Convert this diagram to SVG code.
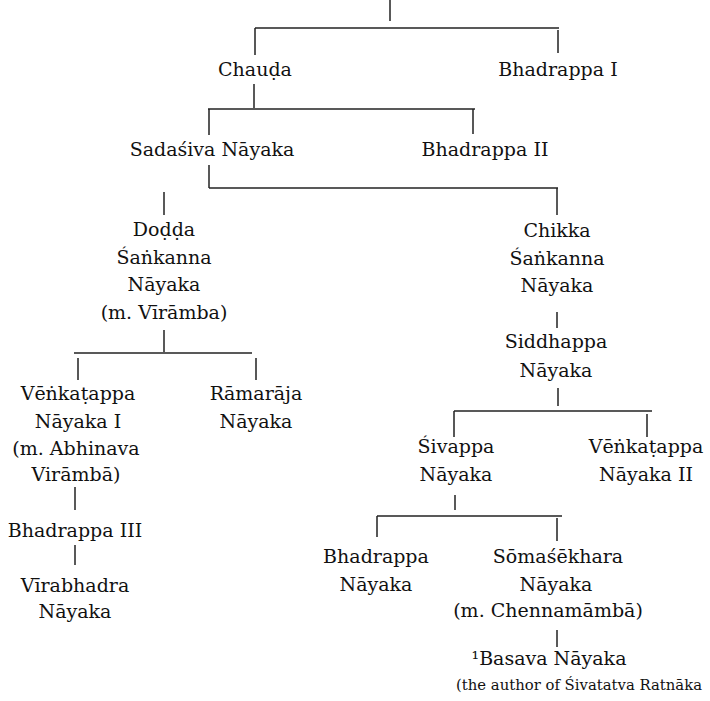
<svg xmlns="http://www.w3.org/2000/svg" width="710" height="701" viewBox="0 0 710 701">
<style>
text{font-family:"DejaVu Serif","Liberation Serif",serif;font-size:19px;fill:#111;text-anchor:middle}
.c path{stroke:#222;stroke-width:1.5;fill:none}
</style>
<rect width="710" height="701" fill="#fff"/>
<g class="c" id="connectors">
<path d="M390,0V21"/>
<path d="M255,28H559"/>
<path d="M255,28V55M558,30V53"/>
<path d="M254,84V108"/>
<path d="M208,109H475"/>
<path d="M209,109V135M473,109V134"/>
<path d="M209,165V188"/>
<path d="M209,188H558"/>
<path d="M557,188V215"/>
<path d="M164,192V215"/>
<path d="M164,330V352"/>
<path d="M74,353H252"/>
<path d="M78,358V380M256,358V380"/>
<path d="M75,487V510"/>
<path d="M75,545V565"/>
<path d="M557,312V328"/>
<path d="M558,388V406"/>
<path d="M454,411H652"/>
<path d="M454,411V437M647,414V437"/>
<path d="M455,495V510"/>
<path d="M377,516H562"/>
<path d="M377,516V537M557,518V541"/>
<path d="M557,630V647"/>
</g>
<g id="chauda"><text x="255" y="76">Chauḍa</text></g>
<g id="bhadrappa1"><text x="558" y="76">Bhadrappa I</text></g>
<g id="sadasiva"><text x="212" y="156">Sadaśiva Nāyaka</text></g>
<g id="bhadrappa2"><text x="485" y="156">Bhadrappa II</text></g>
<g id="dodda"><text x="164" y="236">Doḍḍa</text><text x="164" y="264">Śaṅkanna</text><text x="164" y="291">Nāyaka</text><text x="164" y="319">(m. Vīrāmba)</text></g>
<g id="chikka"><text x="557" y="237">Chikka</text><text x="557" y="265">Śaṅkanna</text><text x="557" y="292">Nāyaka</text></g>
<g id="siddhappa"><text x="556" y="348">Siddhappa</text><text x="556" y="377">Nāyaka</text></g>
<g id="venkatappa1"><text x="78" y="400">Vēṅkaṭappa</text><text x="78" y="428">Nāyaka I</text><text x="76" y="455">(m. Abhinava</text><text x="76" y="481">Virāmbā)</text></g>
<g id="ramaraja"><text x="256" y="400">Rāmarāja</text><text x="256" y="428">Nāyaka</text></g>
<g id="bhadrappa3"><text x="75" y="537">Bhadrappa III</text></g>
<g id="virabhadra"><text x="75" y="592">Vīrabhadra</text><text x="75" y="618">Nāyaka</text></g>
<g id="sivappa"><text x="456" y="453">Śivappa</text><text x="456" y="481">Nāyaka</text></g>
<g id="venkatappa2"><text x="646" y="453">Vēṅkaṭappa</text><text x="646" y="481">Nāyaka II</text></g>
<g id="bhadrappaN"><text x="376" y="563">Bhadrappa</text><text x="376" y="591">Nāyaka</text></g>
<g id="somasekhara"><text x="558" y="563">Sōmaśēkhara</text><text x="556" y="591">Nāyaka</text><text x="548" y="617">(m. Chennamāmbā)</text></g>
<g id="basava"><text x="549" y="665">¹Basava Nāyaka</text><text x="456" y="690" style="text-anchor:start;font-size:15.5px" textLength="246" lengthAdjust="spacingAndGlyphs">(the author of Śivatatva Ratnāka</text></g>
</svg>
